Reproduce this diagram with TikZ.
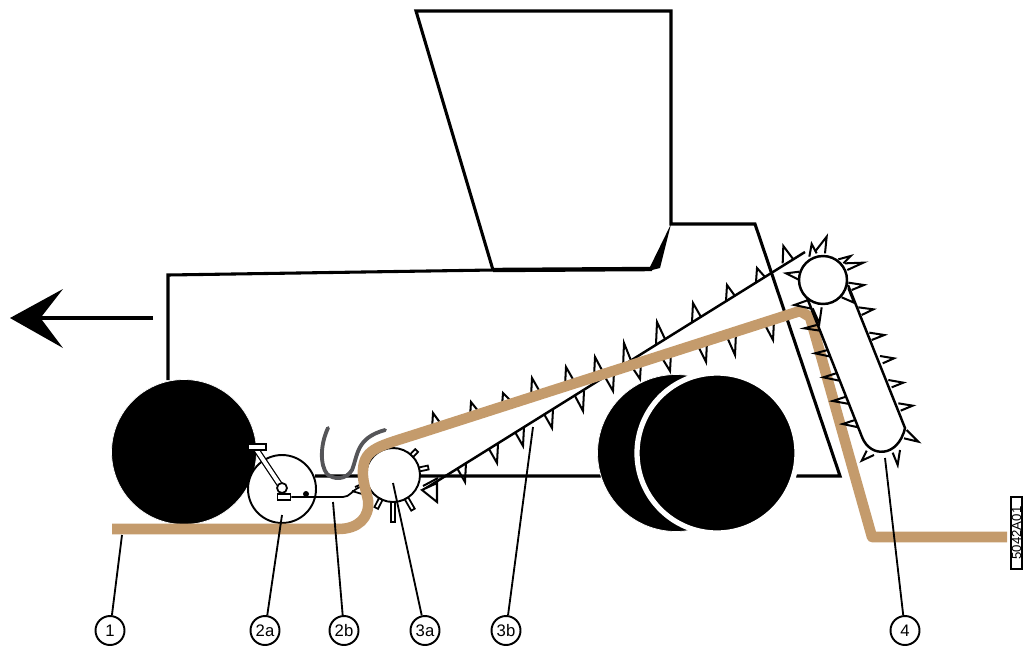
\documentclass[tikz,border=0pt]{standalone}
\usepackage{fontspec}
\setmainfont{Liberation Sans}
\usepackage{tikz}
\usetikzlibrary{positioning, calc}
\definecolor{croptan}{RGB}{196,155,108}
\definecolor{tubegray}{RGB}{85,85,88}

\begin{document}
\begin{tikzpicture}[x=0.02cm, y=-0.02cm]

    % --- Estilos ---
    \tikzset{
        frameline/.style={line width=1.75pt, draw=black, line join=miter},
        fineline/.style={line width=1pt, draw=black},
        toothline/.style={line width=1.15pt, draw=black, line join=miter},
        wheel/.style={circle, draw=white, fill=black, inner sep=0pt},
        roller/.style={circle, draw=black, fill=white, line width=1.1pt, inner sep=0pt},
        callout/.style={circle, draw=black, fill=white, line width=1.1pt, minimum size=0.58cm, inner sep=0pt, font=\fontsize{9.5}{11}\selectfont},
        leader/.style={line width=1.05pt, draw=black},
        cropflow/.style={line width=6pt, draw=croptan, line join=round}
    }

    \useasboundingbox (0,0) rectangle (1023,646);

    % --- Tolva y chasis ---
    \draw [frameline] (493,270) -- (416,11) -- (671,11) -- (671,224) -- (755,224) -- (840,476) -- (315,476);
    \draw [frameline] (168,380) -- (168,275) -- (493,270);
    \draw [line width=2.5pt] (493,270) -- (652,269);
    \fill (648,271) -- (660,268) -- (671,224) -- cycle;

    % --- Ruedas ---
    \node (wheelfront) [wheel, minimum size=2.9cm] at (184,452) {};
    \node (wheelrearA) [wheel, minimum size=3.14cm] at (676,453) {};
    \node (wheelrearB) [wheel, minimum size=3.2cm, line width=3pt] at (717,453) {};

    % --- Cadena ---
    \coordinate (chainlow) at (423,490);
    \coordinate (chainhigh) at (805,252);
    \draw [frameline, line width=1.4pt] (chainlow) -- (chainhigh);
    \foreach \x/\y/\b in {433/413/429, 471/402/417, 503/393/406, 532/378/397, 566/367/386, 595/357/377, 624/343/368, 657/322/344, 693/303/322, 727/285/301, 757/268/282}
        \draw [toothline] (\x-1,\b) -- (\x,\y) -- (\x+8,\b-5);
    \foreach \x/\y/\b in {465/482/463, 497/463/444, 523/446/427, 552/428/409, 583/411/391, 613/391/372, 640/379/362, 670/371/353, 706/362/341, 735/355/332, 773/340/320}
        \draw [toothline] (\x+1,\b) -- (\x,\y) -- (\x-8,\b+5);

    % --- Rodillos ---
    \node (pickup) [roller, minimum size=1.36cm] at (282,489) {};
    \node (feedroll) [roller, minimum size=1.08cm] at (393,475) {};
    \foreach \ang/\len in {46/34, 12/36, -60/40, -90/47, -117/37}
        \draw [fineline, fill=white, shift={(393,475)}, rotate=\ang] (27,-2) rectangle (\len,2);
    \draw [toothline, fill=white] (437,502) -- (437,483) -- (422,490) -- cycle;
    \draw [toothline] (423,486) -- (438,478);

    % --- Brazo ---
    \draw [line width=3.6pt] (256,449) -- (282,488);
    \draw [line width=2.2pt, white] (256,449) -- (282,488);
    \node (armtop) [draw, fill=white, fineline, minimum width=0.36cm, minimum height=0.13cm, inner sep=0pt] at (257,447) {};
    \node (armpivot) [roller, fineline, fill=white, minimum size=0.2cm] at (282,488) {};
    \node (armfoot) [draw, fill=white, fineline, minimum width=0.26cm, minimum height=0.12cm, inner sep=0pt] at (284,497) {};
    \node (armknob) [circle, fill=black, minimum size=0.12cm, inner sep=0pt] at (306,494) {};
    \draw [fineline] (armfoot.east) -- (343,497) .. controls (350,497) and (352,490) .. (360,487);
    \draw [fineline] (352,491) -- (362,494);
    \draw [fineline] (355,487) -- (364,483);

    % --- Tubo ---
    \draw [line width=2.2pt, tubegray, line cap=round] (328,428) .. controls (320,445) and (320,465) .. (327,474) .. controls (334,480) and (346,480) .. (352,470) .. controls (358,455) and (356,438) .. (385,430);

    % --- Flujo ---
    \draw [cropflow] (112,529) -- (338,529) .. controls (358,529) and (370,518) .. (368,500) .. controls (366,490) and (362,480) .. (363,470) .. controls (364,448) and (380,446) .. (420,433) -- (800,311) -- (810,317) -- (872,537) -- (1007,537);

    % --- Elevador ---
    \draw [frameline, line width=1.4pt, fill=white] (800,280) -- (862,437) .. controls (870,458) and (898,458) .. (905,428) -- (848,285);
    \node (headroll) [roller, line width=1.4pt, minimum size=0.96cm] at (823,280) {};
    \begin{scope}[shift={(760,220)}, x=0.00667cm, y=-0.00667cm]
        \foreach \tx/\ty/\ax/\ay/\bx/\by in {200/50/165/95/195/100, 155/72/148/110/170/100, 70/78/68/130/100/118, 78/160/118/155/118/180, 272/108/235/118/250/130, 310/128/255/130/262/150, 312/195/265/188/275/210, 282/248/245/232/265/205, 340/268/295/262/305/285, 373/345/328/338/335/360, 402/415/360/408/368/430, 430/488/385/480/395/502, 458/557/415/550/422/572, 475/665/440/630/432/655, 413/735/398/698/420/690, 305/722/320/692/342/705, 248/612/285/600/295/622, 218/543/258/530/268/552, 190/472/228/460/238/482, 165/400/203/390/212/410, 133/325/170/315/180/332, 178/310/158/265/185/262, 103/255/145/240/150/265}
            \draw [toothline] (\ax,\ay) -- (\tx,\ty) -- (\bx,\by);
    \end{scope}

    % --- Flecha ---
    \node (arrowstart) [inner sep=0pt] at (153,318) {};
    \coordinate (arrowtip) at (10,318);
    \fill (arrowtip) -- (63,289) -- (42,316) -- (42,320) -- (63,348) -- cycle;
    \draw [line width=2.3pt] (arrowstart.center) -- (42,318);

    % --- Etiquetas ---
    \node (labelA) [callout] at (110,630.5) {1};
    \node (labelB) [callout] at (265,630.5) {2a};
    \node (labelC) [callout] at (344,630.5) {2b};
    \node (labelD) [callout] at (425,630.5) {3a};
    \node (labelE) [callout] at (506,630.5) {3b};
    \node (labelF) [callout] at (905,630.5) {4};

    \coordinate (ptA) at (122,535);
    \coordinate (ptB) at (282,515);
    \coordinate (ptC) at (333,502);
    \coordinate (ptD) at (393,483);
    \coordinate (ptE) at (533,427);
    \coordinate (ptF) at (885,458);

    \draw [leader] (labelA) -- (ptA);
    \draw [leader] (labelB) -- (ptB);
    \draw [leader] (labelC) -- (ptC);
    \draw [leader] (labelD) -- (ptD);
    \draw [leader] (labelE) -- (ptE);
    \draw [leader] (labelF) -- (ptF);

    \node (drawingref) [draw, fill=white, line width=0.7pt, rotate=90, minimum width=1.44cm, minimum height=0.22cm, inner sep=0pt, font=\fontsize{7.5}{8}\selectfont] at (1016.5,533) {5042A01};

\end{tikzpicture}
\end{document}
